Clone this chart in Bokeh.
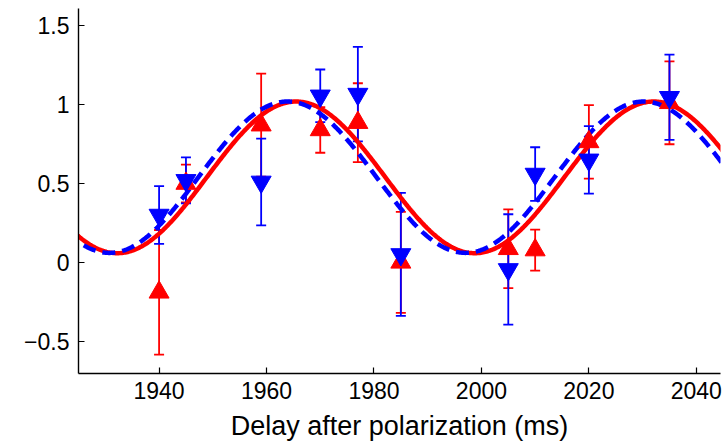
import numpy as np
from bokeh.plotting import figure
from bokeh.models import ColumnDataSource, Whisker, TeeHead, FixedTicker, Range1d
from bokeh.embed import file_html
from bokeh.resources import INLINE

# ---- data ----
delay_ms = [1940, 1945, 1959, 1970, 1977, 1985, 2005, 2010, 2020, 2035]
red_y    = [-0.19, 0.50, 0.87, 0.84, 0.886, 0.00, 0.086, 0.078, 0.764, 1.012]
red_err  = [0.395, 0.12, 0.327, 0.145, 0.25, 0.32, 0.25, 0.13, 0.233, 0.263]
blue_y   = [0.30, 0.52, 0.51, 1.056, 1.067, 0.05, -0.045, 0.56, 0.65, 1.047]
blue_err = [0.183, 0.146, 0.275, 0.167, 0.30, 0.39, 0.35, 0.17, 0.214, 0.27]

# sinusoidal fit parameters: offset, amplitude, period (ms), position of a maximum (ms)
red_fit  = {"offset": 0.539, "amp": 0.481, "period": 66.55, "peak": 1965.5}
blue_fit = {"offset": 0.540, "amp": 0.480, "period": 66.30, "peak": 1963.9}

x_ticks = [1940, 1960, 1980, 2000, 2020, 2040]
y_ticks = [-0.5, 0, 0.5, 1, 1.5]
y_tick_labels = {-0.5: "\u22120.5", 0: "0", 0.5: "0.5", 1: "1", 1.5: "1.5"}

X_START, X_END = 1925, 2044.5
Y_START, Y_END = -0.705, 1.61

FONT = "Liberation Sans"

p = figure(width=728, height=445, output_backend="svg", toolbar_location=None,
           x_range=Range1d(X_START, X_END), y_range=Range1d(Y_START, Y_END),
           min_border_left=78, min_border_right=8, min_border_top=8,
           min_border_bottom=72)
p.outline_line_color = None
p.xgrid.visible = False
p.ygrid.visible = False
p.background_fill_color = "white"
p.border_fill_color = "white"

# fit curves
xf = np.linspace(X_START - 2, X_END + 2, 600)
def fit_curve(f):
    return f["offset"] + f["amp"] * np.cos(2 * np.pi * (xf - f["peak"]) / f["period"])

p.line(xf, fit_curve(red_fit), line_color="#ff0000", line_width=4.5)
p.line(xf, fit_curve(blue_fit), line_color="#0000ff", line_width=4.5, line_dash="13 7")

def add_series(ys, errs, color, marker):
    src = ColumnDataSource(dict(
        x=delay_ms, y=ys,
        lo=[v - e for v, e in zip(ys, errs)],
        hi=[v + e for v, e in zip(ys, errs)],
    ))
    w = Whisker(source=src, base="x", lower="lo", upper="hi",
                line_color=color, line_width=1.8,
                upper_head=TeeHead(size=10, line_color=color, line_width=1.8),
                lower_head=TeeHead(size=10, line_color=color, line_width=1.8))
    p.add_layout(w)
    p.scatter("x", "y", source=src, marker=marker, size=20,
              fill_color=color, line_color=color, line_width=1)

add_series(red_y, red_err, "#ff0000", "triangle")
add_series(blue_y, blue_err, "#0000ff", "inverted_triangle")

# axes
for ax in (p.xaxis[0], p.yaxis[0]):
    ax.axis_line_color = "black"
    ax.axis_line_width = 1.4
    ax.major_tick_line_color = "black"
    ax.major_tick_line_width = 1.2
    ax.major_tick_in = 6
    ax.major_tick_out = 0
    ax.minor_tick_line_color = None
    ax.major_label_text_font = FONT
    ax.major_label_text_font_size = "23px"
    ax.major_label_text_color = "black"

p.xaxis.ticker = FixedTicker(ticks=x_ticks)
p.yaxis.ticker = FixedTicker(ticks=y_ticks)
p.yaxis.major_label_overrides = y_tick_labels
p.xaxis.major_label_standoff = 8
p.yaxis.major_label_standoff = 9
p.xaxis.axis_label = "Delay after polarization (ms)"
p.xaxis.axis_label_text_font = FONT
p.xaxis.axis_label_text_font_size = "27px"
p.xaxis.axis_label_text_font_style = "normal"
p.xaxis.axis_label_text_color = "black"
p.xaxis.axis_label_standoff = 9

open("out.html", "w").write(file_html(p, INLINE))
